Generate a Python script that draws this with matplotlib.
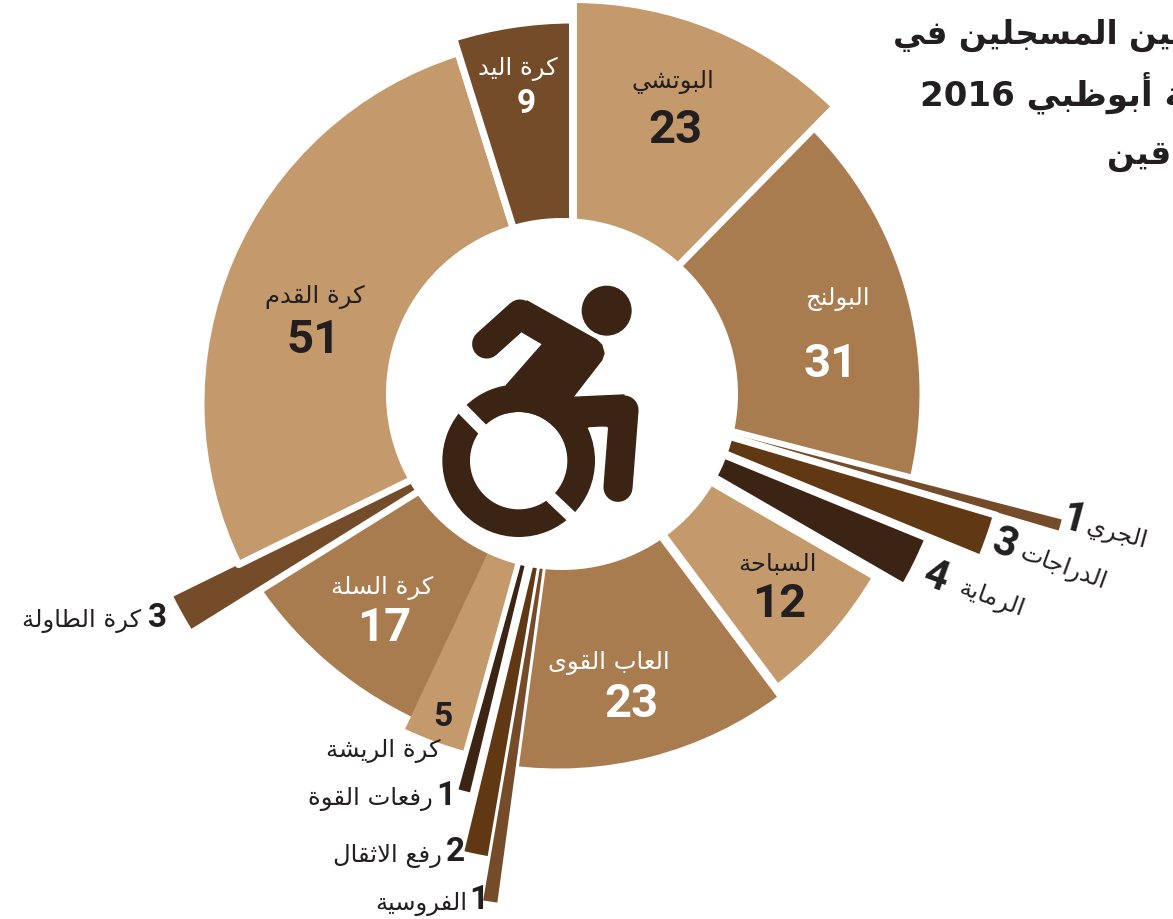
import re
import matplotlib
matplotlib.use('Agg')
import matplotlib.pyplot as plt
from matplotlib.patches import Wedge, Circle, Polygon

names = ['البوتشي', 'البولنج', 'الجري', 'الدراجات', 'الرماية', 'السباحة', 'العاب القوى',
         'الفروسية', 'رفع الاثقال', 'رفعات القوة', 'كرة الريشة', 'كرة السلة',
         'كرة الطاولة', 'كرة القدم', 'كرة اليد']
values = [23, 31, 1, 3, 4, 12, 23, 1, 2, 1, 5, 17, 3, 51, 9]
title_lines = ['عدد اللاعبين المسجلين في', 'بطولة أبوظبي 2016', 'للمعاقين']

LIGHT = '#C49A6C'
MID = '#A97C50'
BROWN = '#754C29'
RUST = '#603813'
DARK = '#3C2415'
TEXT = '#231F20'
colors = [LIGHT, MID, BROWN, RUST, DARK, LIGHT, MID, BROWN, RUST, DARK, LIGHT, MID, BROWN, LIGHT, BROWN]
# wedge apex, radius and white stroke in pixels, one per slice
apex_x = [573.5, 545, 562, 562, 558, 557, 558, 568, 571, 567, 562, 581, 562, 568, 572.5]
apex_y = [372.5, 393, 387, 387, 387, 393, 398, 394, 394, 394, 395, 366, 402, 403, 417]
radius = [373, 378, 520, 453, 400, 368, 374, 515, 473, 411, 369, 393, 438, 367, 397]
stroke = [7, 7, 6, 7, 7, 7, 7, 3, 7, 2, 0, 7, 7, 7, 7]
draw_order = [11, 10, 1, 0, 2, 3, 4, 5, 6, 8, 7, 9, 12, 13, 14]

# label placement: x, y of the name, x, y of the number, rotation, text colour
labels = [
    (673, 82, 675, 130, 0, TEXT),
    (837, 299, 831, 364, 0, 'white'),
    (1117, 534, 1074, 520, -15, TEXT),
    (1063, 568, 1005, 544, -20, TEXT),
    (991, 599, 936, 577, -20, TEXT),
    (777, 564, 779, 604, 0, TEXT),
    (609, 663, 631, 704, 0, 'white'),
    (421, 904, 479, 900, 0, TEXT),
    (387, 856, 455, 852, 0, TEXT),
    (370, 799, 446, 796, 0, TEXT),
    (383, 751, 443, 717, 0, TEXT),
    (382, 588, 384, 628, 0, 'white'),
    (82, 621, 158, 618, 0, TEXT),
    (315, 297, 314, 340, 0, TEXT),
    (518, 69, 526, 104, 0, 'white'),
]
big_values = {23, 31, 12, 17, 51}

FOUR = dict(zip('ئبتثجحخسشصضطظعغفقكلمنهي',
                [0xFE89, 0xFE8F, 0xFE95, 0xFE99, 0xFE9D, 0xFEA1, 0xFEA5, 0xFEB1, 0xFEB5, 0xFEB9, 0xFEBD,
                 0xFEC1, 0xFEC5, 0xFEC9, 0xFECD, 0xFED1, 0xFED5, 0xFED9, 0xFEDD, 0xFEE1, 0xFEE5, 0xFEE9, 0xFEF1]))
TWO = dict(zip('آأؤإادذرزوةى',
               [0xFE81, 0xFE83, 0xFE85, 0xFE87, 0xFE8D, 0xFEA9, 0xFEAB, 0xFEAD, 0xFEAF, 0xFEED, 0xFE93, 0xFEEF]))


def shape(text):
    # matplotlib has no Arabic shaping, so pick presentation forms and lay out right to left
    text = text.replace('لا', '\uFEFB')
    out = []
    for i, ch in enumerate(text):
        prev = text[i - 1] if i > 0 else ''
        nxt = text[i + 1] if i + 1 < len(text) else ''
        joins_prev = prev in FOUR
        joins_next = ch in FOUR and (nxt in FOUR or nxt in TWO or nxt == '\uFEFB')
        if ch == '\uFEFB':
            out.append('\uFEFC' if joins_prev else ch)
        elif ch in FOUR:
            form = {(False, False): 0, (True, False): 1, (False, True): 2, (True, True): 3}[(joins_prev, joins_next)]
            out.append(chr(FOUR[ch] + form))
        elif ch in TWO:
            out.append(chr(TWO[ch] + (1 if joins_prev else 0)))
        else:
            out.append(ch)
    visual = ''.join(out)[::-1]
    return re.sub(r'\d+', lambda m: m.group(0)[::-1], visual)


def draw_icon(ax):
    def px(x, y):
        return (420 + x / 3, 270 + y / 3)

    icon = DARK
    wheel = px(296, 572)
    ax.add_patch(Polygon([px(*p) for p in [(321, 93), (530, 210), (545, 225), (552, 250), (545, 270), (458, 382),
                                           (440, 470), (260, 470), (260, 345), (368, 222), (308, 187), (280, 150)]],
                         closed=True, facecolor=icon, edgecolor=icon, linewidth=1, joinstyle='round', zorder=4))
    ax.add_patch(Polygon([px(*p) for p in [(458, 382), (612, 375), (612, 468), (505, 472), (440, 470)]],
                         closed=True, facecolor=icon, edgecolor=icon, linewidth=1, joinstyle='round', zorder=4))
    for a, b in [((200, 222), (300, 132)), ((612, 420), (594, 652))]:
        p, q = px(*a), px(*b)
        ax.plot([p[0], q[0]], [p[1], q[1]], color=icon, lw=21, solid_capstyle='round', zorder=4)
    ax.add_patch(Polygon([px(*p) for p in [(505, 472), (540, 470), (560, 470), (547, 660), (525, 660)]],
                         closed=True, facecolor='white', edgecolor='none', zorder=4.05))
    ax.add_patch(Circle(wheel, 146 / 3, facecolor='white', edgecolor='none', zorder=4.1))
    ax.add_patch(Wedge(wheel, 229 / 3, 0, 360, width=83 / 3, facecolor=icon, edgecolor='none', zorder=4.2))
    for a, b in [((110, 400), (200, 491)), ((375, 665), (470, 755))]:
        p, q = px(*a), px(*b)
        ax.plot([p[0], q[0]], [p[1], q[1]], color='white', lw=8.5, solid_capstyle='butt', zorder=4.3)
    ax.add_patch(Circle(px(560, 122), 25, facecolor=icon, edgecolor='none', zorder=4))


def main():
    fig = plt.figure(figsize=(11.73, 9.19), dpi=100)
    ax = fig.add_axes([0, 0, 1, 1])
    ax.set_xlim(0, 1173)
    ax.set_ylim(919, 0)
    ax.axis('off')

    per_unit = 360 / sum(values)
    starts = [sum(values[:i]) * per_unit for i in range(len(values))]
    for i in draw_order:
        # y axis points down, so theta grows clockwise on screen; -90 puts zero at the top
        wedge = Wedge((apex_x[i], apex_y[i]), radius[i], starts[i] - 90, starts[i] + values[i] * per_unit - 90,
                      facecolor=colors[i], edgecolor='white' if stroke[i] else 'none',
                      linewidth=stroke[i] * 0.72, joinstyle='round', zorder=2)
        ax.add_patch(wedge)
    ax.add_patch(Circle((562, 394), 176, facecolor='white', edgecolor='none', zorder=3))

    draw_icon(ax)

    for i, (nx, ny, vx, vy, rot, col) in enumerate(labels):
        ax.text(nx, ny, shape(names[i]), family='DejaVu Sans', fontsize=17.5, color=col, rotation=rot,
                rotation_mode='anchor', ha='center', va='center', zorder=5)
        size = 34 if values[i] in big_values else 24
        if rot:
            size = 30
        ax.text(vx, vy, str(values[i]), family='Roboto', weight='bold', fontsize=size, color=col, rotation=rot,
                rotation_mode='anchor', ha='center', va='center', zorder=5)

    ax.text(893, 35, shape(title_lines[0]), family='DejaVu Sans', weight='bold', fontsize=23.5,
            color=TEXT, ha='left', va='center', zorder=6)
    ax.text(920, 93, shape(title_lines[1]), family='DejaVu Sans', weight='bold', fontsize=24.5,
            color=TEXT, ha='left', va='center', zorder=6)
    ax.text(1107, 155, shape(title_lines[2]), family='DejaVu Sans', weight='bold', fontsize=23.5,
            color=TEXT, ha='left', va='center', zorder=6)

    fig.savefig('out.png', dpi=100, facecolor='white')


if __name__ == '__main__':
    main()
